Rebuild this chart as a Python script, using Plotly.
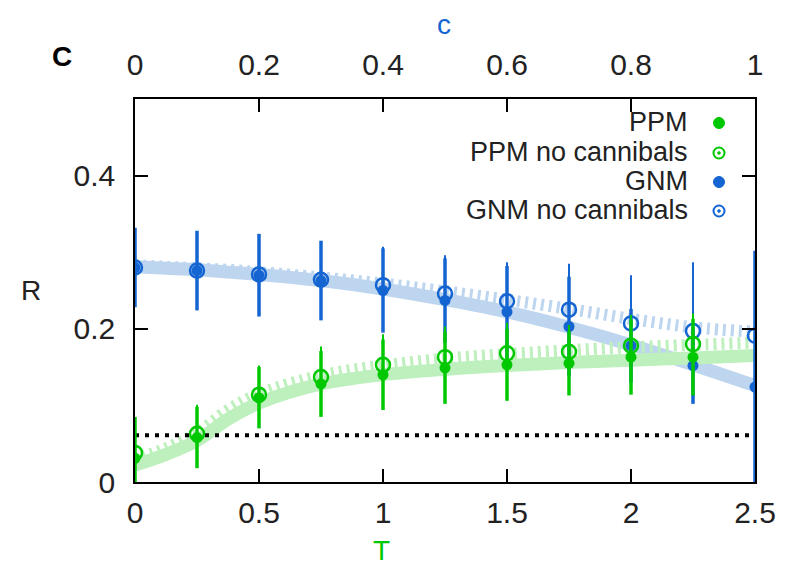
import plotly.graph_objects as go

# ---------------- data ----------------
T = [0, 0.25, 0.5, 0.75, 1.0, 1.25, 1.5, 1.75, 2.0, 2.25, 2.5]

gnm = [0.280, 0.276, 0.270, 0.263, 0.250, 0.237, 0.222, 0.203, 0.178, 0.152, 0.124]
gnm_err = [0.052, 0.052, 0.054, 0.052, 0.055, 0.055, 0.060, 0.065, 0.048, 0.050, 0.178]
gnm_nc = [0.280, 0.276, 0.271, 0.264, 0.257, 0.246, 0.236, 0.225, 0.207, 0.197, 0.191]
gnm_nc_err = [0.050, 0.050, 0.050, 0.050, 0.050, 0.050, 0.051, 0.060, 0.063, 0.090, 0.100]

T_ppm = [0, 0.25, 0.5, 0.75, 1.0, 1.25, 1.5, 1.75, 2.0, 2.25]
ppm = [0.031, 0.058, 0.110, 0.128, 0.140, 0.149, 0.153, 0.155, 0.163, 0.163]
ppm_err = [0.054, 0.040, 0.040, 0.043, 0.046, 0.047, 0.047, 0.042, 0.049, 0.050]
ppm_nc = [0.038, 0.063, 0.114, 0.137, 0.153, 0.163, 0.168, 0.170, 0.178, 0.180]
ppm_nc_err = [0.045, 0.038, 0.038, 0.040, 0.040, 0.040, 0.040, 0.035, 0.040, 0.040]

# smooth fit bands
T_fit = [0, 0.125, 0.25, 0.375, 0.5, 0.75, 1.0, 1.25, 1.5, 1.75, 2.0, 2.25, 2.5]
gnm_fit = [0.281, 0.279, 0.277, 0.274, 0.271, 0.263, 0.252, 0.238, 0.222, 0.202, 0.179, 0.153, 0.126]
gnm_nc_fit = [0.283, 0.281, 0.279, 0.277, 0.274, 0.267, 0.259, 0.249, 0.238, 0.226, 0.213, 0.202, 0.196]
ppm_fit = [0.022, 0.036, 0.054, 0.082, 0.103, 0.128, 0.140, 0.147, 0.152, 0.156, 0.159, 0.162, 0.165]
ppm_nc_fit = [0.030, 0.044, 0.064, 0.094, 0.115, 0.139, 0.152, 0.161, 0.167, 0.172, 0.176, 0.179, 0.182]

baseline = 0.061

c_ticks = [0, 0.2, 0.4, 0.6, 0.8, 1.0]
c_labels = ["0", "0.2", "0.4", "0.6", "0.8", "1"]
T_ticks = [0, 0.5, 1, 1.5, 2, 2.5]
T_labels = ["0", "0.5", "1", "1.5", "2", "2.5"]
R_ticks = [0, 0.2, 0.4]
R_labels = ["0", "0.2", "0.4"]

legend_names = ["PPM", "PPM no cannibals", "GNM", "GNM no cannibals"]

# ---------------- style ----------------
BLUE = "#1464d2"
GREEN = "#00c800"
LBLUE = "#bdd5ef"
LGREEN = "#bdf0bd"
FONT = "Liberation Sans, Arial, sans-serif"

OFF = 8  # page body margin
W, H = 789, 576
PLOT_L, PLOT_R, PLOT_T, PLOT_B = 135 - OFF, 755 - OFF, 99 - OFF, 482 - OFF
PW, PH = PLOT_R - PLOT_L, PLOT_B - PLOT_T

fig = go.Figure()

# fit bands
fig.add_trace(go.Scatter(x=T_fit, y=gnm_fit, mode="lines", line=dict(color=LBLUE, width=13, shape="spline"), showlegend=False))
fig.add_trace(go.Scatter(x=T_fit, y=gnm_nc_fit, mode="lines", line=dict(color=LBLUE, width=12, shape="spline", dash="3px,5px"), showlegend=False))
fig.add_trace(go.Scatter(x=T_fit, y=ppm_fit, mode="lines", line=dict(color=LGREEN, width=13, shape="spline"), showlegend=False))
fig.add_trace(go.Scatter(x=T_fit, y=ppm_nc_fit, mode="lines", line=dict(color=LGREEN, width=12, shape="spline", dash="3px,5px"), showlegend=False))

# baseline
fig.add_trace(go.Scatter(x=[T[0], T[-1]], y=[baseline, baseline], mode="lines",
                         line=dict(color="black", width=4, dash="4px,6px"), showlegend=False))

# GNM points
fig.add_trace(go.Scatter(x=T, y=gnm_nc, mode="markers",
                         marker=dict(symbol="circle-open", size=14, color=BLUE, line=dict(width=2.5, color=BLUE)),
                         error_y=dict(type="data", array=gnm_nc_err, color=BLUE, thickness=2, width=0),
                         showlegend=False))
fig.add_trace(go.Scatter(x=T, y=gnm, mode="markers",
                         marker=dict(symbol="circle", size=11, color=BLUE),
                         error_y=dict(type="data", array=gnm_err, color=BLUE, thickness=3.5, width=0),
                         showlegend=False))
# PPM points
fig.add_trace(go.Scatter(x=T_ppm, y=ppm_nc, mode="markers",
                         marker=dict(symbol="circle-open", size=14, color=GREEN, line=dict(width=2.5, color=GREEN)),
                         error_y=dict(type="data", array=ppm_nc_err, color=GREEN, thickness=2, width=0),
                         showlegend=False))
fig.add_trace(go.Scatter(x=T_ppm, y=ppm, mode="markers",
                         marker=dict(symbol="circle", size=11, color=GREEN),
                         error_y=dict(type="data", array=ppm_err, color=GREEN, thickness=3.5, width=0),
                         showlegend=False))

# top axis anchor trace (invisible)
fig.add_trace(go.Scatter(x=[c_ticks[0], c_ticks[-1]], y=[0, 0], xaxis="x2", mode="lines",
                         line=dict(width=0), opacity=0, hoverinfo="skip", showlegend=False))

axis_common = dict(showgrid=False, zeroline=False, showline=True, linecolor="black", linewidth=1.5,
                   ticks="inside", ticklen=13, tickwidth=1.5, tickcolor="black",
                   tickfont=dict(family=FONT, size=30, color="#222"))

fig.update_layout(
    width=W, height=H,
    margin=dict(l=PLOT_L, r=W - PLOT_R, t=PLOT_T, b=H - PLOT_B, autoexpand=False),
    plot_bgcolor="white", paper_bgcolor="white",
    xaxis=dict(range=[0, 2.5], tickvals=T_ticks, ticktext=T_labels, mirror=True, ticklabelstandoff=3, **axis_common),
    xaxis2=dict(range=[0, 1], overlaying="x", side="top", anchor="y", tickvals=c_ticks, ticktext=c_labels,
                ticklabelstandoff=10, **axis_common),
    yaxis=dict(range=[0, 0.5], tickvals=R_ticks, ticktext=R_labels, mirror="ticks", ticklabelstandoff=12, **axis_common),
    showlegend=False,
)

def px2paper(px, py):
    # px, py are reference screenshot pixels
    return (px - OFF - PLOT_L) / PW, (PLOT_B - (py - OFF)) / PH

annotations = []
for txt, px, py, col, size, bold in [("c", 444, 24, BLUE, 28, False), ("T", 381, 550, GREEN, 28, False),
                                     ("R", 31, 290, "#222", 28, False), ("C", 62, 57, "black", 28, True)]:
    x, y = px2paper(px, py)
    annotations.append(dict(text=("<b>%s</b>" % txt) if bold else txt, x=x, y=y, xref="paper", yref="paper",
                            showarrow=False, xanchor="center", yanchor="middle",
                            font=dict(family=FONT, size=size, color=col)))

# custom legend: right aligned text, symbol at right
leg_rows = [122, 152, 181, 210]
leg_cols = [GREEN, GREEN, BLUE, BLUE]
leg_open = [False, True, False, True]
shapes = []
for name, py, col, op in zip(legend_names, leg_rows, leg_cols, leg_open):
    x, y = px2paper(690, py)
    annotations.append(dict(text=name, x=x, y=y, xref="paper", yref="paper", showarrow=False,
                            xanchor="right", yanchor="middle", font=dict(family=FONT, size=27, color="#222")))
    cx, cy = 719, py + 1
    r = 5.5
    x0, y0 = px2paper(cx - r, cy + r)
    x1, y1 = px2paper(cx + r, cy - r)
    if op:
        shapes.append(dict(type="circle", xref="paper", yref="paper", x0=x0, y0=y0, x1=x1, y1=y1,
                           line=dict(color=col, width=2), fillcolor="white"))
        rr = 1.3
        x0, y0 = px2paper(cx - rr, cy + rr)
        x1, y1 = px2paper(cx + rr, cy - rr)
        shapes.append(dict(type="circle", xref="paper", yref="paper", x0=x0, y0=y0, x1=x1, y1=y1,
                           line=dict(color=col, width=1), fillcolor=col))
    else:
        shapes.append(dict(type="circle", xref="paper", yref="paper", x0=x0, y0=y0, x1=x1, y1=y1,
                           line=dict(color=col, width=1), fillcolor=col))

fig.update_layout(annotations=annotations, shapes=shapes)

fig.write_html("out.html")
